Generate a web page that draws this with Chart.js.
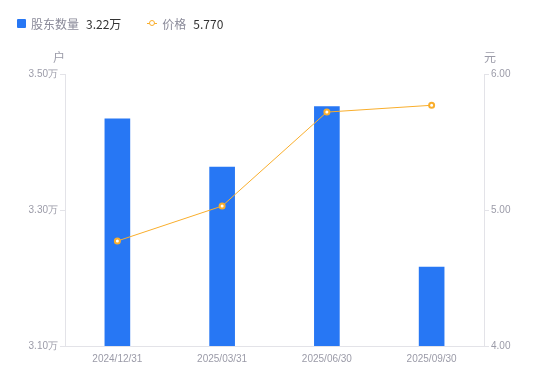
<!DOCTYPE html>
<html>
<head>
<meta charset="utf-8">
<script src="https://cdn.jsdelivr.net/npm/chart.js@4"></script>
<style>
  body { margin: 0; background: #fff; font-family: "Noto Sans CJK SC", "Noto Sans", sans-serif; }
  #wrap { position: relative; width: 550px; height: 381px; }
  #legend { position: absolute; left: 17px; top: 15px; font-size: 12px; color: #8a8a99; display: flex; align-items: center; }
  .item { display: flex; align-items: center; margin-right: 26px; }
  .sq { width: 9px; height: 9px; background: #2777F4; border-radius: 1px; margin-right: 5px; }
  .ln { position: relative; width: 10px; height: 9px; margin-right: 5px; }
  .ln:before { content: ""; position: absolute; left: 0; right: 0; top: 4px; height: 1px; background: #F9AE2C; }
  .ln:after { content: ""; position: absolute; left: 2px; top: 1px; width: 4px; height: 4px; border: 1.5px solid #F9AE2C; border-radius: 50%; background: #fff; }
  .val { color: #333; margin-left: 7px; }
</style>
</head>
<body>
<div id="wrap">
  <canvas id="chart" width="550" height="381"></canvas>
  <div id="legend"></div>
</div>
<script>
const dates = ["2024/12/31", "2025/03/31", "2025/06/30", "2025/09/30"];
const holders = [3.434, 3.363, 3.452, 3.216];   // 万户
const prices = [4.772, 5.029, 5.72, 5.77];     // 元
const holderTicks = [3.10, 3.30, 3.50];
const priceTicks = [4.00, 5.00, 6.00];

const blue = "#2777F4";
const orange = "#F9AE2C";
const grey = "#9b9ba8";

document.getElementById("legend").innerHTML =
  '<div class="item"><span class="sq"></span>股东数量<span class="val">' + holders[holders.length - 1].toFixed(2) + '万</span></div>' +
  '<div class="item"><span class="ln"></span>价格<span class="val">' + prices[prices.length - 1].toFixed(3) + '</span></div>';

const unitLabels = {
  id: "unitLabels",
  afterDraw(chart) {
    const c = chart.ctx;
    c.save();
    c.font = "12px 'Noto Sans CJK SC'";
    c.fillStyle = grey;
    c.textBaseline = "middle";
    c.textAlign = "center";
    c.fillText("户", 59, 57);
    c.fillText("元", 490, 57);
    c.restore();
  }
};

const ctx = document.getElementById("chart").getContext("2d");
new Chart(ctx, {
  data: {
    labels: dates,
    datasets: [
      {
        type: "line", label: "价格", data: prices, yAxisID: "y2",
        borderColor: orange, borderWidth: 1, pointRadius: 2.5,
        pointBackgroundColor: "#fff", pointBorderColor: orange, pointBorderWidth: 2,
        tension: 0, order: 0
      },
      {
        type: "bar", label: "股东数量", data: holders, yAxisID: "y",
        backgroundColor: blue, barThickness: 25, order: 1
      }
    ]
  },
  options: {
    responsive: false,
    animation: false,
    layout: { padding: { top: 74, left: 0, right: 0, bottom: 0 } },
    plugins: { legend: { display: false }, tooltip: { enabled: false } },
    scales: {
      x: {
        grid: { display: false, drawTicks: false },
        border: { color: "#e3e3e8" },
        ticks: { color: grey, font: { size: 10 }, padding: 7 },
        afterFit(s) { s.height = 35; }
      },
      y: {
        position: "left", min: 3.10, max: 3.50,
        afterBuildTicks(s) { s.ticks = holderTicks.map(v => ({ value: v })); },
        grid: { display: true, drawOnChartArea: false, tickLength: 5, color: "#e3e3e8" },
        border: { color: "#e3e3e8" },
        ticks: { color: grey, font: { size: 10 }, padding: 2, callback: v => v.toFixed(2) + "万" },
        afterFit(s) { s.width = 65; }
      },
      y2: {
        position: "right", min: 4, max: 6,
        afterBuildTicks(s) { s.ticks = priceTicks.map(v => ({ value: v })); },
        grid: { display: true, drawOnChartArea: false, tickLength: 5, color: "#e3e3e8" },
        border: { color: "#e3e3e8" },
        ticks: { color: grey, font: { size: 10 }, padding: 2, callback: v => v.toFixed(2) },
        afterFit(s) { s.width = 66; }
      }
    }
  },
  plugins: [unitLabels]
});
</script>
</body>
</html>
